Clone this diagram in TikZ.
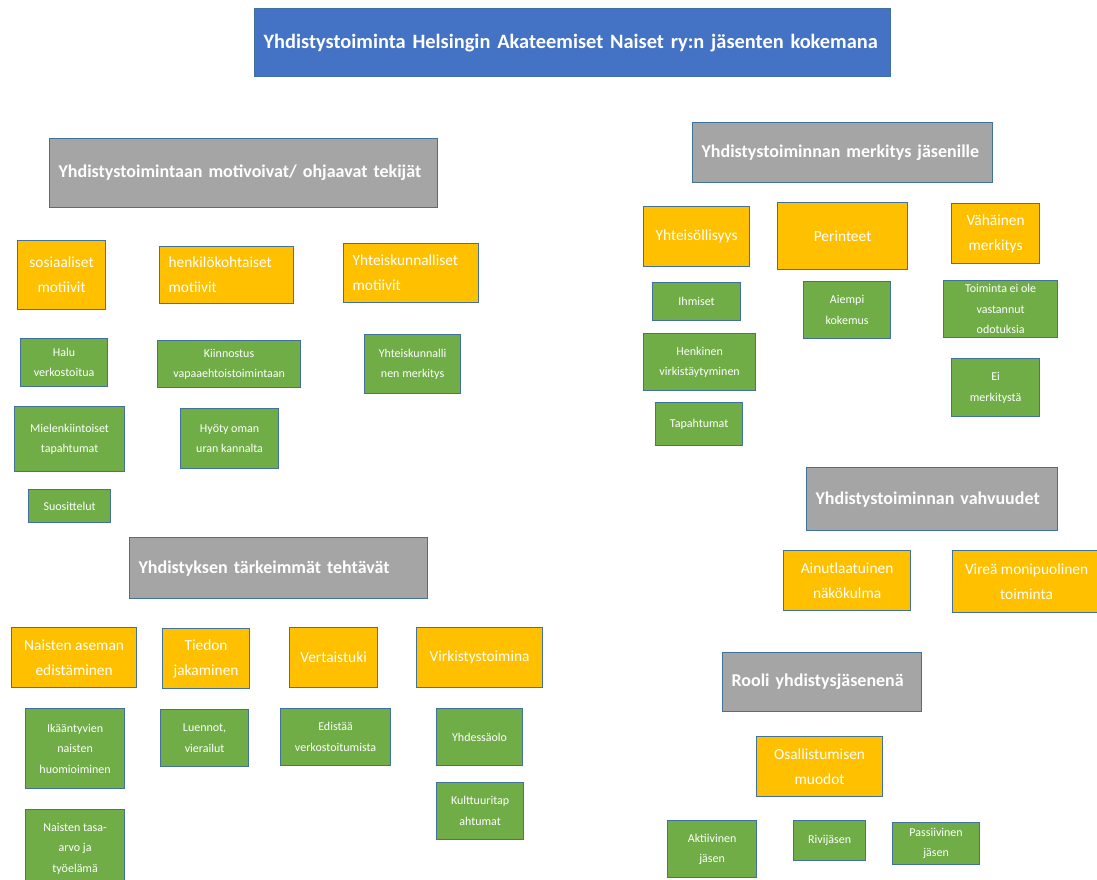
\documentclass[tikz,border=0pt]{standalone}
\usepackage{fontspec}
\setmainfont{Carlito}
\usetikzlibrary{positioning}

\definecolor{blueback}{HTML}{4472C4}
\definecolor{grayback}{HTML}{A5A5A5}
\definecolor{orangeback}{HTML}{FFC000}
\definecolor{greenback}{HTML}{70AD47}
\definecolor{edgeblue}{HTML}{41719C}

\tikzset{
  shape box/.style={draw=edgeblue,line width=1.2pt,rectangle,anchor=north west,
    text=white,inner sep=0pt},
  wh/.style 2 args={minimum width=#1pt,minimum height=#2pt},
  lefttext/.style={align=left,inner xsep=9pt,text width=#1pt},
  titlebox/.style={shape box,fill=blueback,font=\fontsize{20.4}{24}\selectfont\bfseries},
  headbox/.style={shape box,fill=grayback,font=\fontsize{18}{22}\selectfont\bfseries},
  catbox/.style={shape box,fill=orangeback,align=center,font=\fontsize{15.4}{25}\selectfont},
  itembox/.style={shape box,fill=greenback,align=center,font=\fontsize{12}{20.5}\selectfont}
}

\begin{document}
\begin{tikzpicture}[x=1pt,y=-1pt]

  \useasboundingbox [fill=white] (0,0) rectangle (1097,879);

  % otsikko
  \node [titlebox,wh={636}{68},lefttext=618] (T) at (254,8)
    {\mbox{Yhdistystoiminta Helsingin Akateemiset Naiset ry:n jäsenten kokemana}};

  % paaotsikot
  \node [headbox,wh={388}{69},lefttext=370] (H_motiv) at (49,138)
    {\mbox{Yhdistystoimintaan motivoivat/ ohjaavat tekijät}};
  \node [headbox,wh={300}{60},lefttext=282] (H_merk) at (692,122)
    {\mbox{Yhdistystoiminnan merkitys jäsenille}};
  \node [headbox,wh={251}{63},lefttext=233] (H_vahv) at (806,467)
    {\mbox{Yhdistystoiminnan vahvuudet}};
  \node [headbox,wh={298}{61},lefttext=280] (H_teht) at (129,537)
    {\mbox{Yhdistyksen tärkeimmät tehtävät}};
  \node [headbox,wh={199}{59},lefttext=181] (H_rooli) at (722,652)
    {\mbox{Rooli yhdistysjäsenenä}};

  % motiivit
  \node [catbox,wh={88}{69}] (C_sos) at (17,240) {sosiaaliset\\motiivit};
  \node [catbox,wh={134}{57},lefttext=116] (C_henk) at (159,246)
    {henkilökohtaiset\\motiivit};
  \node [catbox,wh={135}{59},lefttext=117] (C_yht) at (343,243)
    {Yhteiskunnalliset\\motiivit};

  \node [itembox,wh={87}{48}] (I_halu) at (20,338) {Halu\\verkostoitua};
  \node [itembox,wh={110}{65}] (I_miel) at (14,406) {Mielenkiintoiset\\tapahtumat};
  \node [itembox,wh={82}{33}] (I_suos) at (28,489) {Suosittelut};
  \node [itembox,wh={143}{47}] (I_kiin) at (157,340) {Kiinnostus\\vapaaehtoistoimintaan};
  \node [itembox,wh={98}{60}] (I_hyot) at (180,408) {Hyöty oman\\uran kannalta};
  \node [itembox,wh={96}{59}] (I_yhtm) at (364,334) {Yhteiskunnalli\\nen merkitys};

  % merkitys
  \node [catbox,wh={106}{60}] (C_yhtei) at (643,206) {Yhteisöllisyys};
  \node [catbox,wh={130}{67}] (C_peri) at (777,202) {Perinteet};
  \node [catbox,wh={88}{60}] (C_vaha) at (951,203) {Vähäinen\\merkitys};

  \node [itembox,wh={88}{38}] (I_ihmi) at (652,282) {Ihmiset};
  \node [itembox,wh={112}{57}] (I_henk) at (643,333) {Henkinen\\virkistäytyminen};
  \node [itembox,wh={87}{43}] (I_tapa) at (655,402) {Tapahtumat};
  \node [itembox,wh={87}{57}] (I_aiem) at (803,281) {Aiempi\\kokemus};
  \node [itembox,wh={114}{57}] (I_toim) at (943,280) {Toiminta ei ole\\vastannut\\odotuksia};
  \node [itembox,wh={88}{58}] (I_eime) at (951,358) {Ei\\merkitystä};

  % vahvuudet
  \node [catbox,wh={127}{60}] (C_ainu) at (783,550) {Ainutlaatuinen\\näkökulma};
  \node [catbox,wh={148}{62}] (C_vire) at (952,550) {Vireä monipuolinen\\toiminta};

  % tehtavat
  \node [catbox,wh={125}{60}] (C_nais) at (11,627) {Naisten aseman\\edistäminen};
  \node [catbox,wh={87}{60}] (C_tied) at (162,628) {Tiedon\\jakaminen};
  \node [catbox,wh={88}{60}] (C_vert) at (289,627) {Vertaistuki};
  \node [catbox,wh={126}{60}] (C_virk) at (416,627) {Virkistystoimina};

  \node [itembox,wh={99}{80}] (I_ikaa) at (25,708) {Ikääntyvien\\naisten\\huomioiminen};
  \node [itembox,wh={99}{78}] (I_tasa) at (25,809) {Naisten tasa-\\arvo ja\\työelämä};
  \node [itembox,wh={88}{57}] (I_luen) at (160,709) {Luennot,\\vierailut};
  \node [itembox,wh={110}{57}] (I_edis) at (280,708) {Edistää\\verkostoitumista};
  \node [itembox,wh={86}{57}] (I_yhde) at (436,708) {Yhdessäolo};
  \node [itembox,wh={87}{57}] (I_kult) at (436,782) {Kulttuuritap\\ahtumat};

  % rooli
  \node [catbox,wh={126}{60}] (C_osal) at (756,736) {Osallistumisen\\muodot};
  \node [itembox,wh={89}{57}] (I_akti) at (667,820) {Aktiivinen\\jäsen};
  \node [itembox,wh={72}{40}] (I_rivi) at (793,820) {Rivijäsen};
  \node [itembox,wh={87}{42}] (I_pass) at (892,822) {Passiivinen\\jäsen};

\end{tikzpicture}
\end{document}
